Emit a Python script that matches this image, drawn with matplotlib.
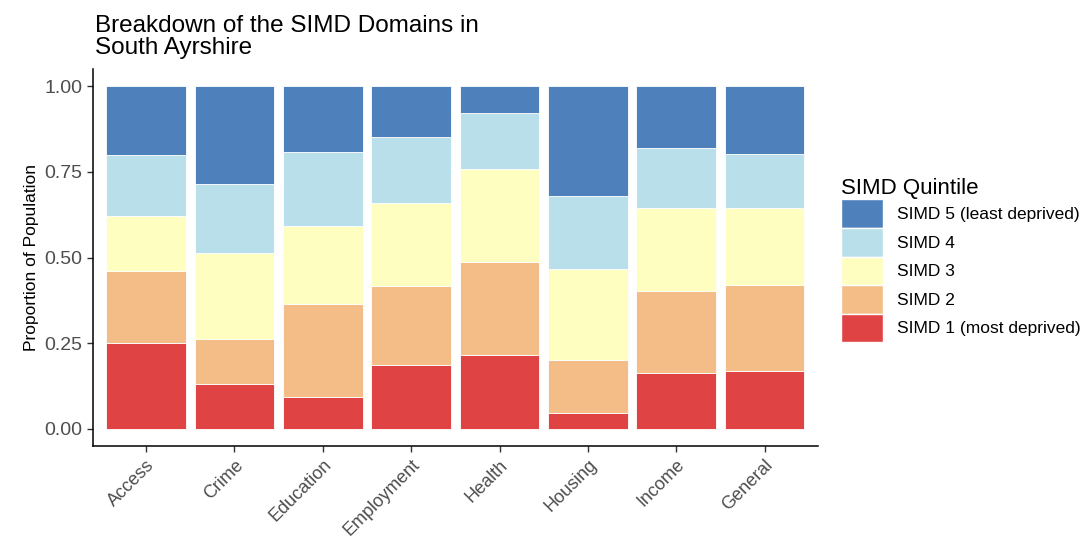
import numpy as np
import matplotlib.pyplot as plt
from matplotlib.patches import Patch

plt.rcParams['font.family'] = ['Liberation Sans', 'DejaVu Sans']

domains = ['Access', 'Crime', 'Education', 'Employment', 'Health', 'Housing', 'Income', 'General']
# proportion of population in each quintile, per domain
simd1 = [0.250, 0.131, 0.093, 0.187, 0.216, 0.045, 0.163, 0.170]
simd2 = [0.210, 0.132, 0.271, 0.230, 0.270, 0.156, 0.240, 0.249]
simd3 = [0.162, 0.249, 0.227, 0.242, 0.272, 0.265, 0.241, 0.227]
simd4 = [0.176, 0.204, 0.217, 0.194, 0.165, 0.214, 0.177, 0.157]
simd5 = [0.202, 0.284, 0.192, 0.147, 0.077, 0.320, 0.179, 0.197]

labels = ['SIMD 1 (most deprived)', 'SIMD 2', 'SIMD 3', 'SIMD 4', 'SIMD 5 (least deprived)']
cols = ['#DF4344', '#F4BC86', '#FEFEC1', '#B9E0EA', '#4E80BB']

fig = plt.figure(figsize=(10.88, 5.4), dpi=100)
ax = fig.add_axes([0.0855, 0.174, 0.666, 0.698])

x = np.arange(len(domains))
bottom = np.zeros(len(domains))
for vals, c in zip([simd1, simd2, simd3, simd4, simd5], cols):
    ax.bar(x, vals, bottom=bottom, width=0.9, color=c, edgecolor='white', linewidth=0.6)
    bottom += np.array(vals)

ax.set_xlim(-0.6, 7.6)
ax.set_ylim(-0.05, 1.05)
ax.set_yticks([0, 0.25, 0.5, 0.75, 1.0])
ax.set_yticklabels(['0.00', '0.25', '0.50', '0.75', '1.00'])
ax.set_xticks(x)
ax.set_xticklabels(domains, rotation=45, ha='right', rotation_mode='anchor')
ax.tick_params(axis='y', labelsize=14)
ax.tick_params(axis='x', labelsize=13)
ax.tick_params(axis='both', labelcolor='#4D4D4D', color='#333333', length=4, width=1)
for s in ['top', 'right']:
    ax.spines[s].set_visible(False)
for s in ['left', 'bottom']:
    ax.spines[s].set_linewidth(1.1)
ax.set_ylabel('Proportion of Population', fontsize=12.5, labelpad=4)

fig.text(0.087, 0.89, 'Breakdown of the SIMD Domains in\nSouth Ayrshire', fontsize=17.5, va='bottom', ha='left', linespacing=1.05)

handles = [Patch(facecolor=c, edgecolor='white') for c in cols][::-1]
leg = fig.legend(handles, labels[::-1], loc='upper left', bbox_to_anchor=(0.762, 0.692),
                 frameon=False, title='SIMD Quintile', title_fontsize=16, fontsize=12.5,
                 handlelength=2.4, handleheight=2.15, labelspacing=0.0, handletextpad=0.8,
                 borderpad=0.2)
leg._legend_box.align = 'left'

fig.savefig('out.png', dpi=100)
